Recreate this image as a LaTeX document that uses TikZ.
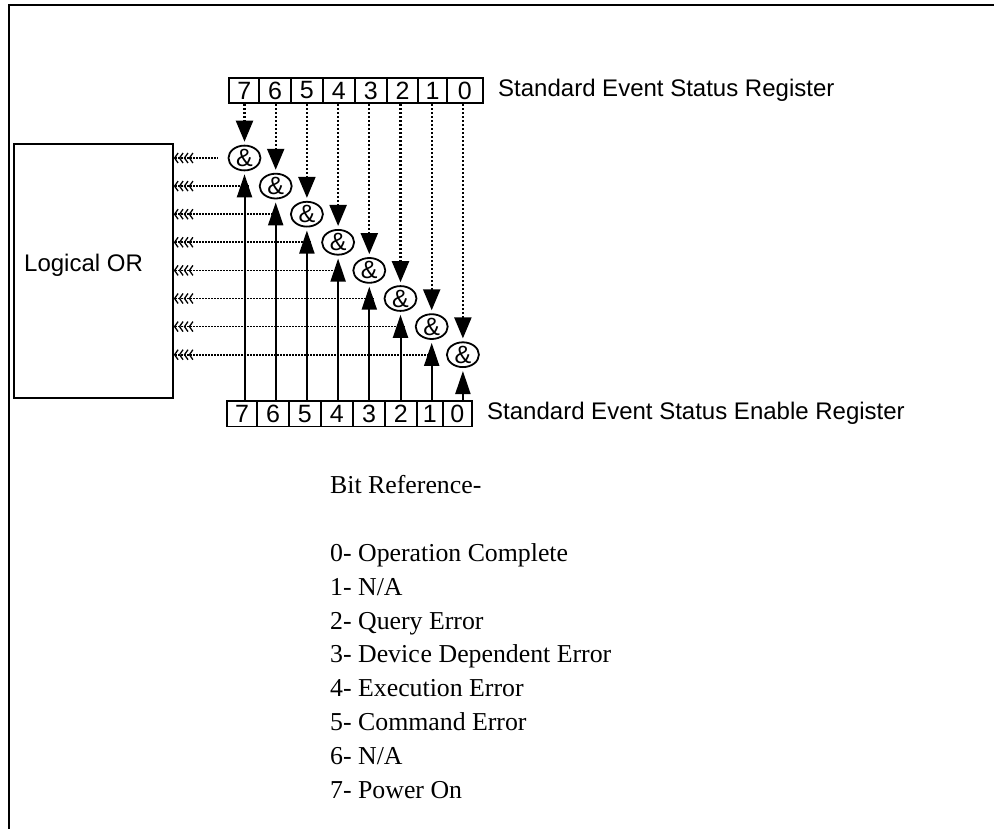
\documentclass[tikz,border=0pt]{standalone}
\usepackage{fontspec}
\setmainfont{Liberation Serif}
\setsansfont{Liberation Sans}
\usetikzlibrary{arrows.meta,shapes.geometric}
\begin{document}
\begin{tikzpicture}[x=1pt,y=-1pt,
  sans/.style={font=\sffamily\fontsize{24}{24}\selectfont},
  cell/.style={draw,line width=1.8pt,inner sep=0pt,minimum height=25.5pt,font=\sffamily\fontsize{25}{25}\selectfont},
  gate/.style={draw,ellipse,line width=1.8pt,minimum width=32pt,minimum height=24pt,inner sep=0pt,font=\sffamily\fontsize{25}{25}\selectfont},
  dotv/.style={line width=2.2pt,dash pattern=on 2pt off 2pt,shorten >=3pt,
     -{Triangle[length=21pt,width=17pt]}},
  solidv/.style={line width=2pt,shorten >=3pt,-{Triangle[length=23pt,width=15pt]}},
  doth/.style={line width=1.6pt,dash pattern=on 1.5pt off 1.5pt,
     {Straight Barb[length=3.5pt,width=10pt,line width=1.3pt]Straight Barb[length=3.5pt,width=10pt,line width=1.3pt]Straight Barb[length=3.5pt,width=10pt,line width=1.3pt]Straight Barb[length=3.5pt,width=10pt,line width=1.3pt]}-},
  reftext/.style={anchor=base west,inner sep=0pt,font=\rmfamily\fontsize{25.8}{25.8}\selectfont}
]
\useasboundingbox (0,0) rectangle (994,829);
% frame
\draw[line width=2pt] (9,829) -- (9,5) -- (994,5);
% logical OR box
\node[draw,line width=1.8pt,minimum width=159pt,minimum height=254pt,inner sep=0pt,anchor=north west] (orbox) at (13,143) {};
\node[anchor=west,inner sep=0pt,sans] (ortext) at (24,265) {Logical OR};
% top register
\foreach \b/\cx/\w in {7/244.3/30,6/275/31.4,5/306.7/32,4/338.85/32.3,3/370.85/31.7,2/402.5/31.6,1/432.5/28.4,0/464.85/36.3}
  \node[cell,minimum width=\w pt] (r\b) at (\cx,90.5) {\b};
% bottom register
\foreach \b/\cx/\w in {7/242/30,6/273/32,5/304.85/31.7,4/336.85/32.3,3/369/32,2/400.85/31.7,1/429.7/26,0/457.2/29}
  \node[cell,minimum width=\w pt] (e\b) at (\cx,413.7) {\b};
\node[anchor=west,inner sep=0pt,sans] (toplab) at (498,90) {Standard Event Status Register};
\node[anchor=west,inner sep=0pt,sans] (botlab) at (487,413) {Standard Event Status Enable Register};
% gates
\foreach \k [evaluate=\k as \xx using 244.5+31.2*\k, evaluate=\k as \yy using 158+28.1*\k, evaluate=\k as \b using int(7-\k)] in {0,...,7}
  \node[gate] (a\b) at (\xx,\yy) {\&};
% connectors
\foreach \b in {0,...,7}{
  \draw[dotv] (a\b.north |- r\b.south) -- (a\b.north);
  \draw[solidv] (a\b.south |- e\b.north) -- (a\b.south);
  \draw[doth] (orbox.east |- a\b.west) -- ([xshift=-10pt]a\b.west);
}
% bit reference
\node[reftext] (bref) at (330,493.5) {Bit Reference-};
\node[reftext] (t0) at (330,561.4) {0- Operation Complete};
\node[reftext] (t1) at (330,595.2) {1- N/A};
\node[reftext] (t2) at (330,629.0) {2- Query Error};
\node[reftext] (t3) at (330,662.8) {3- Devic\kern1pt e Dependent Error};
\node[reftext] (t4) at (330,696.6) {4- Execution Error};
\node[reftext] (t5) at (330,730.4) {5- Command Error};
\node[reftext] (t6) at (330,764.2) {6- N/A};
\node[reftext] (t7) at (330,798.0) {7- Power On};
\end{tikzpicture}
\end{document}
